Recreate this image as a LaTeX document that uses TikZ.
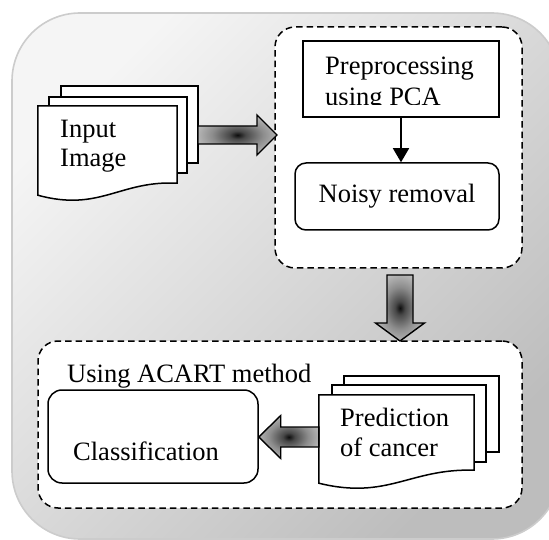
\documentclass[tikz,border=0pt]{standalone}
\usepackage{fontspec}
\setmainfont{Liberation Serif}
\usetikzlibrary{arrows.meta,calc}
\pgfdeclareradialshading{arrowshade}{\pgfpoint{0bp}{0bp}}{color(0bp)=(black!95); color(5bp)=(black!72); color(16bp)=(black!45); color(28bp)=(black!25); color(50bp)=(black!25)}
\begin{document}
\begin{tikzpicture}[x=1pt,y=-1pt,
  txt/.style={font=\fontsize{26.5}{30}\selectfont, inner sep=0pt, anchor=base west},
  box/.style={draw=black, line width=1.5pt, fill=white, inner sep=0pt},
  grp/.style={draw=black, line width=1.5pt, dash pattern=on 6.5pt off 4pt, fill=white, rounded corners=20pt, inner sep=0pt},
  page/.style={draw=black, line width=1.5pt, fill=white, inner sep=0pt},
  blk/.style={draw=black, line width=1.4pt, shading=arrowshade},
]
\useasboundingbox (0,0) rectangle (549,540);
\begin{scope}
\clip (0,0) rectangle (549,540);
\shade[draw=black!20, line width=1.6pt, rounded corners=68pt, top color=black!4, bottom color=black!26, shading angle=45] (12,13) rectangle (560,539);
\end{scope}

% top group
\node[grp, minimum width=247pt, minimum height=241pt] (g1) at (398.5,147.5) {};
\node[box, minimum width=196pt, minimum height=76pt] (pre) at (401,79) {};
\begin{scope}
\clip (303,41) rectangle (499,105);
\node[txt] (pretxt1) at (325,75) {Preprocessing};
\node[txt] (pretxt2) at (325,106) {using PCA};
\end{scope}
\node[box, rounded corners=11pt, minimum width=204pt, minimum height=67pt, font=\fontsize{26.5}{30}\selectfont] (noisy) at (397,196.5) {Noisy removal};
\draw[line width=1.5pt, -{Triangle[length=14pt,width=16pt]}] (pre.south) -- (pre.south |- noisy.north);

% input image document
\node[page, minimum width=137pt, minimum height=77pt] (in3) at (129.5,124.5) {};
\node[page, minimum width=138pt, minimum height=76pt] (in2) at (118,135) {};
\node[inner sep=0pt, minimum width=139pt, minimum height=89pt] (in1) at (107.5,150.5) {};
\draw[page] (in1.north west) -- (in1.north east) -- ($(in1.south east)+(0,-12)$)
  .. controls ($(in1.south west)+(82,-15)$) and ($(in1.south west)+(62,17)$) .. (in1.south west) -- cycle;
\node[txt] (inp1) at (60,138) {Input};
\node[txt] (inp2) at (60,167) {Image};

% right block arrow
\coordinate (a1s) at (198,135);
\coordinate (a1e) at (277,135);
\shade[blk] ($(a1s)+(0,-9)$) -- ($(a1e)+(-20,-9)$) -- ($(a1e)+(-20,-20)$) -- (a1e)
  -- ($(a1e)+(-20,20)$) -- ($(a1e)+(-20,9)$) -- ($(a1s)+(0,9)$) -- cycle;

% bottom group
\node[grp, minimum width=484pt, minimum height=167pt] (g2) at (280,424.5) {};

% down block arrow
\coordinate (a2s) at (400,275);
\coordinate (a2e) at (400,341);
\shade[blk] ($(a2s)+(-13,0)$) -- ($(a2e)+(-13,-18)$) -- ($(a2e)+(-24.5,-18)$) -- (a2e)
  -- ($(a2e)+(24.5,-18)$) -- ($(a2e)+(13,-18)$) -- ($(a2s)+(13,0)$) -- cycle;

\node[txt] (acart) at (67,382) {Using ACART method};
\node[box, rounded corners=14pt, minimum width=210pt, minimum height=93pt] (cls) at (153,436.5) {};
\node[txt] (clstxt) at (73,460) {Classification};

% prediction document
\node[page, minimum width=155pt, minimum height=76pt] (pr3) at (421.5,414) {};
\node[page, minimum width=154pt, minimum height=77pt] (pr2) at (409,423.5) {};
\node[inner sep=0pt, minimum width=155pt, minimum height=88pt] (pr1) at (396.5,439) {};
\draw[page] (pr1.north west) -- (pr1.north east) -- ($(pr1.south east)+(0,-13)$)
  .. controls ($(pr1.south west)+(91,-15)$) and ($(pr1.south west)+(69,17)$) .. (pr1.south west) -- cycle;
\node[txt] (pred1) at (340,426) {Prediction};
\node[txt] (pred2) at (340,456) {of cancer};

% left block arrow
\coordinate (a3s) at (pr1.west |- 0,437);
\coordinate (a3e) at (cls.east |- 0,437);
\shade[blk] ($(a3s)+(0,-10)$) -- ($(a3e)+(22,-10)$) -- ($(a3e)+(22,-21.5)$) -- (a3e)
  -- ($(a3e)+(22,21.5)$) -- ($(a3e)+(22,10)$) -- ($(a3s)+(0,10)$) -- cycle;
\end{tikzpicture}
\end{document}
